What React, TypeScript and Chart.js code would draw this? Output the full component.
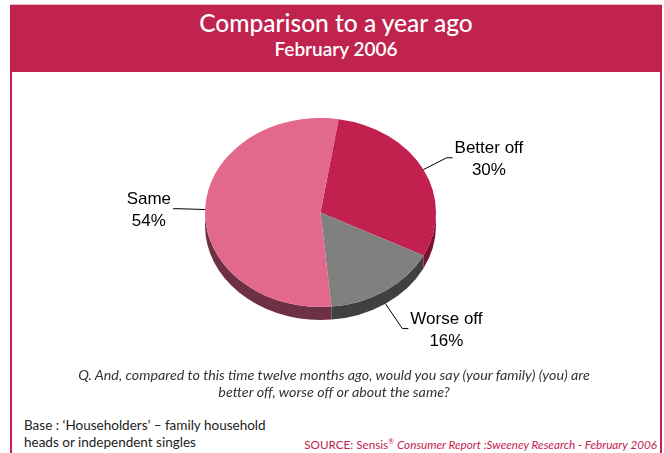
import React, { useEffect, useRef } from "react";
import { Chart, registerables } from "chart.js";

Chart.register(...registerables);

const categories = ["Better off", "Worse off", "Same"];
const values = [30, 16, 54];
const percentLabels = ["30%", "16%", "54%"];

const titleText = "Comparison to a year ago";
const subtitleText = "February 2006";
const questionLines = [
  "Q. And, compared to this time twelve months ago, would you say (your family) (you) are",
  "better off, worse off or about the same?",
];
const baseLines = ["Base : \u2018Householders\u2019 \u2013 family household", "heads or independent singles"];

const CRIMSON = "#C1234F";
const sliceColors = ["#C2214F", "#808080", "#E2698B"];
const sideColors = ["#7B1230", "#404040", "#6E3044"];
const TILT = 0.818;
const DEPTH = 13;

const piePlugin = {
  id: "pie3d",
  beforeDatasetsDraw(chart: any) {
    const ctx = chart.ctx;
    const meta = chart.getDatasetMeta(0);
    const first = meta.data[0];
    const cx = first.x;
    const cy = first.y;
    ctx.save();
    meta.data.forEach((el: any, i: number) => {
      const rx = el.outerRadius;
      const ry = el.outerRadius * TILT;
      for (let n = -1; n <= 1; n++) {
        const lo = Math.max(el.startAngle, n * 2 * Math.PI);
        const hi = Math.min(el.endAngle, n * 2 * Math.PI + Math.PI);
        if (hi > lo) {
          ctx.beginPath();
          ctx.ellipse(cx, cy, rx, ry, 0, lo, hi, false);
          ctx.ellipse(cx, cy + DEPTH, rx, ry, 0, hi, lo, true);
          ctx.closePath();
          ctx.fillStyle = sideColors[i];
          ctx.fill();
        }
      }
    });
    ctx.translate(cx, cy);
    ctx.scale(1, TILT);
    ctx.translate(-cx, -cy);
  },
  afterDatasetsDraw(chart: any) {
    chart.ctx.restore();
  },
  afterDraw(chart: any) {
    const ctx = chart.ctx;
    const meta = chart.getDatasetMeta(0);
    ctx.save();
    ctx.font = "17px 'Liberation Sans', Arial, sans-serif";
    ctx.fillStyle = "#000";
    ctx.strokeStyle = "#000";
    ctx.lineWidth = 1;
    ctx.textBaseline = "middle";
    meta.data.forEach((el: any, i: number) => {
      const a = (el.startAngle + el.endAngle) / 2;
      const rx = el.outerRadius;
      const ry = el.outerRadius * TILT;
      const s = Math.sin(a);
      const px = el.x + rx * Math.cos(a);
      const py = el.y + ry * s + (s > 0.2 ? DEPTH : 0);
      const len = 26 + 5 * Math.max(0, s);
      const qx = px + len * Math.cos(a);
      const qy = py + len * s;
      const right = Math.cos(a) >= 0;
      const rX = qx + (right ? 6 : -6);
      ctx.beginPath();
      ctx.moveTo(px, py);
      ctx.lineTo(qx, qy);
      ctx.lineTo(rX, qy);
      ctx.stroke();
      const l1 = categories[i];
      const l2 = percentLabels[i];
      const w = Math.max(ctx.measureText(l1).width, ctx.measureText(l2).width);
      const centerX = right ? rX + 2 + w / 2 : rX - 2 - w / 2;
      ctx.textAlign = "center";
      ctx.fillText(l1, centerX, qy - 9.5);
      ctx.fillText(l2, centerX, qy + 13);
    });
    ctx.restore();
  },
};

function PieChart() {
  const ref = useRef<HTMLCanvasElement | null>(null);
  useEffect(() => {
    if (!ref.current) return;
    const chart = new Chart(ref.current, {
      type: "pie",
      data: {
        labels: categories,
        datasets: [
          {
            data: values,
            backgroundColor: sliceColors,
            borderWidth: 0,
          },
        ],
      },
      options: {
        animation: false,
        responsive: false,
        rotation: 9,
        radius: 115.5,
        layout: { padding: { top: 0, bottom: 23, left: 0, right: 31 } },
        plugins: {
          legend: { display: false },
          tooltip: { enabled: false },
        },
      } as any,
      plugins: [piePlugin],
    });
    return () => chart.destroy();
  }, []);
  return (
    <canvas
      ref={ref}
      width={646}
      height={300}
      style={{ position: "absolute", left: 13, top: 74, width: 646, height: 300 }}
    />
  );
}

export default function App() {
  const font = "Lato, 'Open Sans', sans-serif";
  return (
    <div
      style={{
        position: "absolute",
        left: 0,
        top: 0,
        width: 664,
        height: 453,
        background: "#fff",
        overflow: "hidden",
        fontFamily: font,
      }}
    >
      <div style={{ position: "absolute", left: 10, top: 4, width: 652, height: 1, background: "#E9B5C4" }} />
      <div style={{ position: "absolute", left: 10, top: 5, width: 652, height: 67, background: CRIMSON }} />
      <div style={{ position: "absolute", left: 10, top: 72, width: 1.5, height: 381, background: CRIMSON }} />
      <div style={{ position: "absolute", left: 660, top: 72, width: 1.5, height: 381, background: CRIMSON }} />
      <div
        style={{
          position: "absolute",
          left: 10,
          width: 652,
          top: 7.5,
          textAlign: "center",
          color: "#fff",
          fontSize: 24.5,
          fontWeight: 500,
          lineHeight: "29.4px",
          whiteSpace: "nowrap",
        }}
      >
        {titleText}
      </div>
      <div
        style={{
          position: "absolute",
          left: 10,
          width: 652,
          top: 38,
          textAlign: "center",
          color: "#fff",
          fontSize: 19,
          fontWeight: 600,
          lineHeight: "22.8px",
          whiteSpace: "nowrap",
        }}
      >
        {subtitleText}
      </div>
      <PieChart />
      <div
        style={{
          position: "absolute",
          left: 13,
          width: 642,
          top: 367,
          textAlign: "center",
          color: "#333",
          fontSize: 14.3,
          fontStyle: "italic",
          lineHeight: "16.5px",
          whiteSpace: "nowrap",
        }}
      >
        {questionLines.map((l, i) => (
          <div key={i}>{l}</div>
        ))}
      </div>
      <div
        style={{
          position: "absolute",
          left: 24,
          top: 417,
          color: "#222",
          fontSize: 13.5,
          lineHeight: "17px",
          whiteSpace: "nowrap",
        }}
      >
        {baseLines.map((l, i) => (
          <div key={i}>{l}</div>
        ))}
      </div>
      <div
        style={{
          position: "absolute",
          right: 7,
          top: 437,
          color: CRIMSON,
          fontSize: 11.7,
          lineHeight: "14px",
          whiteSpace: "nowrap",
        }}
      >
        SOURCE: Sensis<sup style={{ fontSize: 7, verticalAlign: "top", lineHeight: "8px" }}>®</sup>{" "}
        <i>Consumer Report :Sweeney Research - February 2006</i>
      </div>
    </div>
  );
}
